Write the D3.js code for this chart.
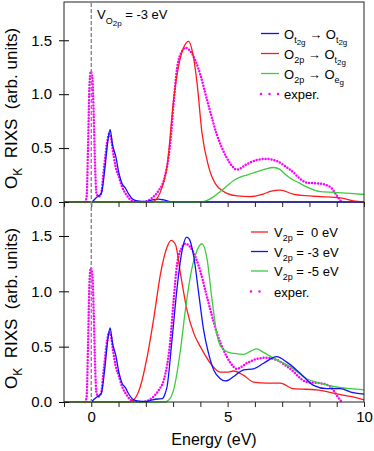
<!DOCTYPE html>
<html>
<head>
<meta charset="utf-8">
<script src="https://cdn.jsdelivr.net/npm/d3@7"></script>
<style>
  body { margin: 0; background: #fff; }
  svg { display: block; font-family: "Liberation Sans", Arial, sans-serif; }
</style>
</head>
<body>
<div id="mainDiv"></div>
<script>
'use strict';

// energy (eV), intensity (arb. units)
var topBlue = [[-1,0],[0,0],[0.18,0.04],[0.37,0.08],[0.49,0.29],[0.61,0.57],[0.69,0.67],[0.78,0.53],[0.9,0.42],[1.02,0.26],[1.13,0.17],[1.25,0.13],[1.38,0.07],[1.5,0.03],[1.68,0.01],[2.0,0.005],[2.25,0.02],[2.45,0.027],[2.65,0.02],[2.9,0.003],[3.2,0],[10,0]];
var topRed = [[-1,0],[2.2,0],[2.4,0.03],[2.6,0.14],[2.78,0.33],[3.02,0.95],[3.2,1.26],[3.4,1.44],[3.57,1.49],[3.72,1.38],[3.88,1.1],[4.06,0.64],[4.3,0.33],[4.55,0.17],[4.98,0.08],[5.34,0.056],[5.83,0.05],[6.3,0.074],[6.6,0.1],[6.93,0.11],[7.4,0.074],[8.0,0.056],[8.9,0.043],[9.24,0.034],[9.6,0.01],[10,0]];
var topGreen = [[-1,0],[4.0,0],[4.25,0.015],[4.49,0.05],[4.74,0.1],[4.98,0.15],[5.22,0.2],[5.46,0.23],[5.7,0.25],[5.95,0.27],[6.2,0.29],[6.44,0.31],[6.68,0.32],[6.93,0.30],[7.1,0.26],[7.3,0.22],[7.6,0.18],[7.9,0.14],[8.4,0.096],[8.9,0.09],[9.5,0.08],[10,0.07]];

var botRed = [[-1,0],[1.4,0],[1.5,0.01],[1.65,0.05],[1.8,0.14],[2.05,0.41],[2.3,0.77],[2.54,1.16],[2.78,1.4],[2.93,1.46],[3.09,1.42],[3.27,1.16],[3.51,0.83],[3.76,0.62],[4.0,0.5],[4.37,0.35],[4.73,0.27],[4.98,0.27],[5.22,0.28],[5.59,0.24],[5.95,0.18],[6.44,0.17],[6.93,0.17],[7.41,0.12],[8.27,0.11],[8.88,0.08],[9.5,0.05],[10,0.02]];
var botBlue = [[0,0],[0.18,0.04],[0.37,0.08],[0.49,0.29],[0.61,0.57],[0.69,0.67],[0.78,0.53],[0.9,0.42],[1.02,0.26],[1.13,0.17],[1.25,0.13],[1.38,0.07],[1.5,0.03],[1.68,0.01],[2.0,0.005],[2.25,0.02],[2.45,0.027],[2.6,0.03],[2.7,0.07],[2.78,0.14],[2.96,0.56],[3.15,1.04],[3.33,1.37],[3.5,1.49],[3.6,1.47],[3.76,1.31],[3.94,0.98],[4.12,0.65],[4.3,0.44],[4.49,0.29],[4.73,0.21],[4.91,0.19],[5.05,0.2],[5.22,0.23],[5.59,0.29],[5.95,0.3],[6.32,0.35],[6.8,0.41],[7.17,0.36],[7.66,0.26],[8.15,0.15],[8.63,0.12],[9.12,0.12],[9.6,0.084],[10,0.072]];
var botGreen = [[-1,0],[2.7,0],[2.85,0.02],[3.02,0.11],[3.27,0.47],[3.45,0.83],[3.63,1.13],[3.88,1.37],[4.06,1.43],[4.24,1.3],[4.43,0.92],[4.6,0.62],[4.75,0.5],[5.0,0.45],[5.22,0.44],[5.59,0.43],[5.85,0.46],[6.07,0.48],[6.3,0.45],[6.8,0.38],[7.29,0.32],[7.9,0.21],[8.39,0.17],[8.88,0.14],[9.5,0.12],[10,0.11]];

var exper = [[-0.22,0],[-0.17,0.05],[-0.12,0.5],[-0.07,1.05],[-0.02,1.21],[0.04,1.15],[0.09,0.8],[0.14,0.33],[0.19,0.08],[0.27,0.05],[0.36,0.08],[0.46,0.3],[0.58,0.55],[0.65,0.63],[0.72,0.6],[0.79,0.48],[0.89,0.33],[1.01,0.235],[1.13,0.14],[1.32,0.055],[1.5,0.01],[1.87,0],[2.24,0.04],[2.48,0.11],[2.66,0.2],[2.9,0.56],[3.02,0.92],[3.15,1.25],[3.33,1.4],[3.45,1.43],[3.63,1.4],[3.82,1.31],[4.0,1.18],[4.18,1.01],[4.37,0.83],[4.61,0.62],[4.85,0.47],[5.1,0.355],[5.34,0.3],[5.7,0.35],[6.07,0.39],[6.44,0.4],[6.8,0.38],[7.29,0.3],[7.9,0.18],[8.4,0.17],[8.76,0.14],[9.0,0.06],[9.18,0]];

var xTicks = [-1,0,1,2,3,4,5,6,7,8,9,10];
var xLabels = [0,5,10];
var yTicks = [0,0.5,1.0,1.5];

var blue = '#1010ff', red = '#ff1a1a', green = '#3ccc3c', magenta = '#ff00ff';

var myApp = {};

myApp.W = 374;
myApp.H = 451;
myApp.left = 64;
myApp.right = 364;

myApp.x = d3.scaleLinear().domain([-1, 10]).range([myApp.left, myApp.right]);

// put a text with sub/superscripts together from parts
myApp.richText = function(sel, parts)
{
    var cur = 0;
    parts.forEach(function(p){
        var s = p.s || 0;
        sel.append('tspan')
            .attr('dy', s - cur)
            .style('font-size', (p.f || 13) + 'px')
            .text(p.t);
        cur = s;
    });
    return sel;
}

myApp.drawPanel = function(svg, top, bottom, ymax, series, legend, legX)
{
    var x = myApp.x;
    var y = d3.scaleLinear().domain([0, ymax]).range([bottom, top]);
    var g = svg.append('g');

    var line = d3.line()
        .x(function(d){ return x(d[0]); })
        .y(function(d){ return y(d[1]); })
        .curve(d3.curveMonotoneX);

    // experiment as dots
    g.append('path')
        .datum(exper)
        .attr('d', line)
        .attr('fill', 'none')
        .attr('stroke', magenta)
        .attr('stroke-width', 2.5)
        .attr('stroke-linecap', 'round')
        .attr('stroke-dasharray', '0,3');

    series.forEach(function(s){
        g.append('path')
            .datum(s.data)
            .attr('d', line)
            .attr('fill', 'none')
            .attr('stroke', s.color)
            .attr('stroke-width', 1.3);
    });

    // y axis, ticks cross the frame
    var ya = g.append('g')
        .attr('transform', 'translate(' + myApp.left + ',0)')
        .call(d3.axisLeft(y).tickValues(yTicks).tickFormat(d3.format('.1f')).tickSize(5).tickPadding(7));
    ya.select('.domain').remove();
    ya.selectAll('.tick line').attr('x1', 5).attr('stroke', '#000');
    ya.selectAll('.tick text').style('font-size', '15px').style('font-family', '"Liberation Sans", Arial, sans-serif').attr('fill', '#000');

    // legend
    legend.forEach(function(L, i){
        var ly = L.y;
        var ll = g.append('line')
            .attr('x1', legX[0]).attr('x2', legX[1])
            .attr('y1', ly).attr('y2', ly)
            .attr('stroke', L.color);
        if (L.dots) {
            ll.attr('stroke-width', 2.5).attr('stroke-linecap', 'round').attr('stroke-dasharray', '0,8.5');
        } else {
            ll.attr('stroke-width', 1.3);
        }
        var t = g.append('text')
            .attr('x', legX[2]).attr('y', ly + 5)
            .style('white-space', 'pre')
            .attr('fill', '#000');
        myApp.richText(t, L.parts);
    });

    // y label
    var cy = (top + bottom) / 2 + 6.5;
    var yl = svg.append('text')
        .attr('transform', 'translate(17,' + cy + ') rotate(-90)')
        .attr('text-anchor', 'middle')
        .style('white-space', 'pre')
        .attr('fill', '#000');
    myApp.richText(yl, [{t:'O', f:17}, {t:'K', s:5, f:12}, {t:'  RIXS  (arb. units)', s:0, f:17}]);

    return y;
}

myApp.run = function()
{
    var x = myApp.x;
    var svg = d3.select('#mainDiv').append('svg')
        .attr('width', myApp.W)
        .attr('height', myApp.H);

    var topLegend = [
        {y:33.5, color:blue, parts:[{t:'O'}, {t:'t', s:4, f:9}, {t:'2g', s:6, f:8}, {t:' \u2192 ', s:0}, {t:'O'}, {t:'t', s:4, f:9}, {t:'2g', s:6, f:8}]},
        {y:53.5, color:red, parts:[{t:'O'}, {t:'2p', s:4, f:9}, {t:' \u2192 ', s:0}, {t:'O'}, {t:'t', s:4, f:9}, {t:'2g', s:6, f:8}]},
        {y:73.5, color:green, parts:[{t:'O'}, {t:'2p', s:4, f:9}, {t:' \u2192 ', s:0}, {t:'O'}, {t:'e', s:4, f:9}, {t:'g', s:6, f:8}]},
        {y:94, color:magenta, dots:true, parts:[{t:'exper.'}]}
    ];
    var botLegend = [
        {y:232, color:red, parts:[{t:'V'}, {t:'2p', s:4, f:9}, {t:' =  0 eV', s:0}]},
        {y:251.5, color:blue, parts:[{t:'V'}, {t:'2p', s:4, f:9}, {t:' = -3 eV', s:0}]},
        {y:271, color:green, parts:[{t:'V'}, {t:'2p', s:4, f:9}, {t:' = -5 eV', s:0}]},
        {y:291.5, color:magenta, dots:true, parts:[{t:'exper.'}]}
    ];

    myApp.drawPanel(svg, 2, 202, 1.855,
        [{data:topBlue, color:blue}, {data:topRed, color:red}, {data:topGreen, color:green}],
        topLegend, [261, 279, 284]);
    myApp.drawPanel(svg, 202, 402, 1.807,
        [{data:botRed, color:red}, {data:botGreen, color:green}, {data:botBlue, color:blue}],
        botLegend, [251, 268, 274]);

    // frame
    svg.append('rect')
        .attr('x', myApp.left).attr('y', 2)
        .attr('width', myApp.right - myApp.left).attr('height', 400)
        .attr('fill', 'none').attr('stroke', '#222').attr('stroke-width', 1);
    svg.append('line')
        .attr('x1', myApp.left).attr('x2', myApp.right)
        .attr('y1', 202).attr('y2', 202)
        .attr('stroke', '#222');

    // x ticks on the middle line and the bottom axis
    [202, 402].forEach(function(yy){
        var xa = svg.append('g')
            .attr('transform', 'translate(0,' + yy + ')')
            .call(d3.axisBottom(x).tickValues(xTicks).tickSize(5).tickPadding(4)
                .tickFormat(function(d){ return (yy === 402 && xLabels.indexOf(d) >= 0) ? d : ''; }));
        xa.select('.domain').remove();
        xa.selectAll('.tick line').attr('stroke', '#222');
        xa.selectAll('.tick text').style('font-size', '15px').style('font-family', '"Liberation Sans", Arial, sans-serif').attr('fill', '#000');
    });

    // dashed zero line
    svg.append('line')
        .attr('x1', x(0)).attr('x2', x(0))
        .attr('y1', 3).attr('y2', 402)
        .attr('stroke', '#8a8a8a').attr('stroke-width', 1.4)
        .attr('stroke-dasharray', '4,2');

    // annotation
    var an = svg.append('text').attr('x', 97).attr('y', 19).style('white-space', 'pre').attr('fill', '#000');
    myApp.richText(an, [{t:'V'}, {t:'O', s:5, f:9}, {t:'2p', s:7, f:8}, {t:' = -3 eV', s:0}]);

    svg.append('text')
        .attr('x', (myApp.left + myApp.right) / 2).attr('y', 445)
        .attr('text-anchor', 'middle')
        .style('font-size', '16px')
        .attr('fill', '#000')
        .text('Energy (eV)');
}

myApp.run();
</script>
</body>
</html>
